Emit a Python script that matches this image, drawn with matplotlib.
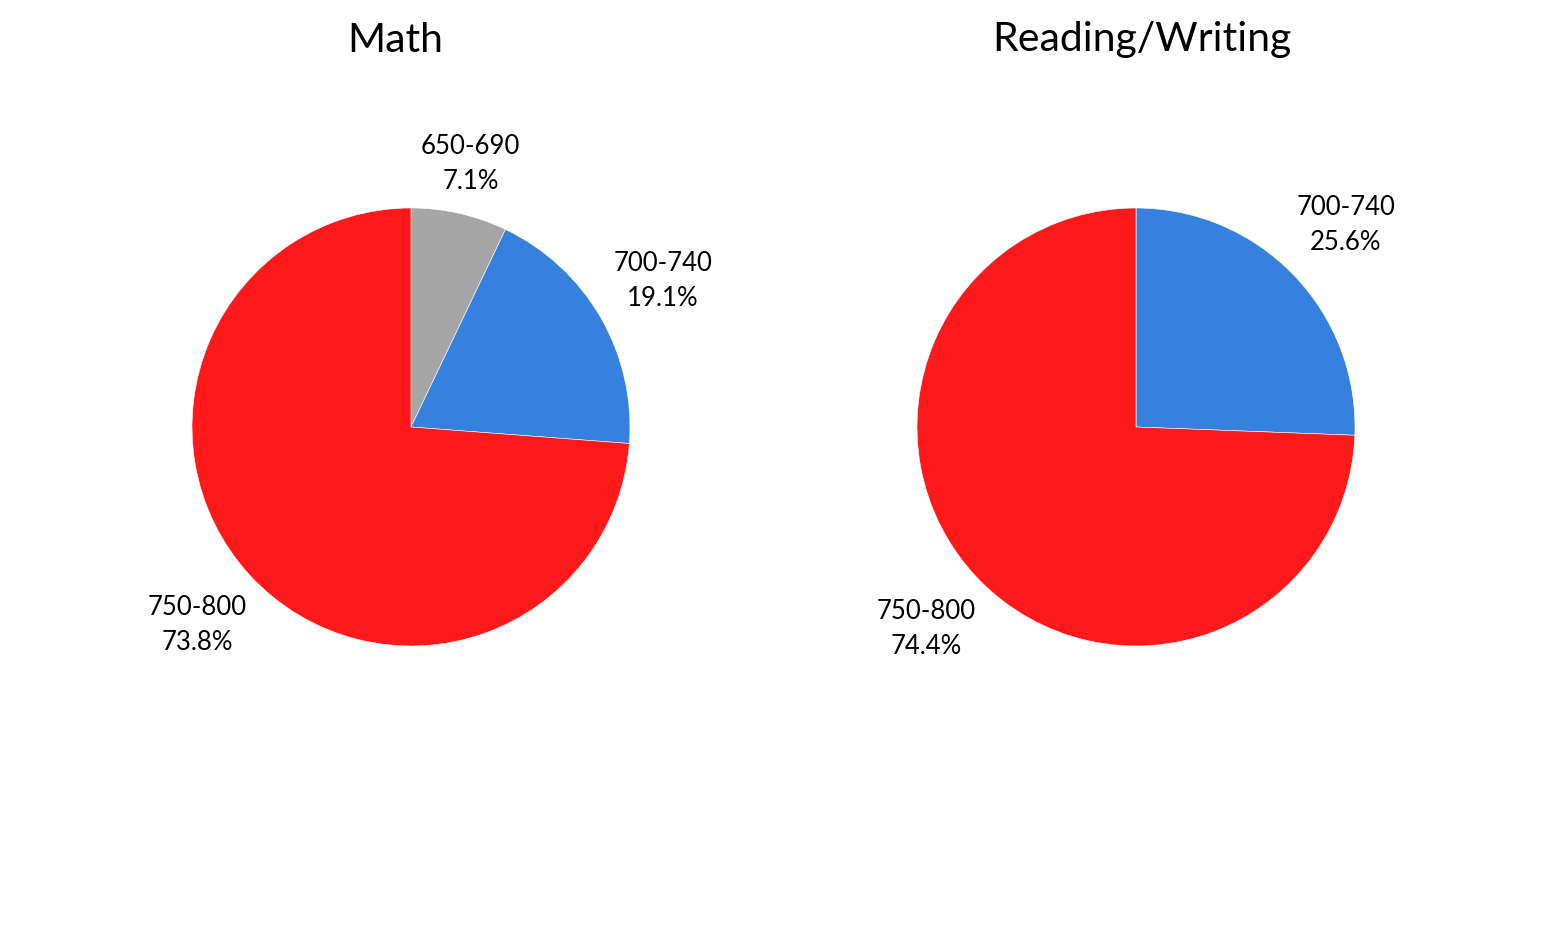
import matplotlib.pyplot as plt
import numpy as np

plt.rcParams['font.family'] = ['Lato', 'DejaVu Sans']

# data
math_labels = ['650-690', '700-740', '750-800']
math_values = [7.1, 19.1, 73.8]
math_colors = ['#a6a6a6', '#3781de', '#fe1a1a']
math_dist = [1.23, 1.33, 1.33]

rw_labels = ['700-740', '750-800']
rw_values = [25.6, 74.4]
rw_colors = ['#3781de', '#fe1a1a']
rw_dist = [1.33, 1.33]

W, H = 1545, 951
fig = plt.figure(figsize=(W / 100, H / 100), dpi=100)


def draw_pie(cx, cy, title, title_x, labels, values, colors, dists):
    # square axes, 600px wide, radius 1 = 219px
    size = 600
    ax = fig.add_axes([(cx - size / 2) / W, (H - cy - size / 2) / H, size / W, size / H])
    wedges, _ = ax.pie(values, colors=colors, startangle=90, counterclock=False,
                       wedgeprops=dict(linewidth=0.4, edgecolor='white'))
    lim = size / 2 / 219
    ax.set_xlim(-lim, lim)
    ax.set_ylim(-lim, lim)
    ax.set_aspect('equal')
    ax.axis('off')
    for w, lab, val, d in zip(wedges, labels, values, dists):
        ang = np.deg2rad((w.theta1 + w.theta2) / 2)
        ax.text(d * np.cos(ang), d * np.sin(ang), '{}\n{:.1f}%'.format(lab, val),
                ha='center', va='center', fontsize=18.5, linespacing=1.5)
    fig.text(title_x / W, 1 - 40 / H, title, ha='center', va='center', fontsize=29.5)


draw_pie(411, 427, 'Math', 395, math_labels, math_values, math_colors, math_dist)
draw_pie(1136, 427, 'Reading/Writing', 1142, rw_labels, rw_values, rw_colors, rw_dist)

fig.savefig('out.png', dpi=100, facecolor='white')
